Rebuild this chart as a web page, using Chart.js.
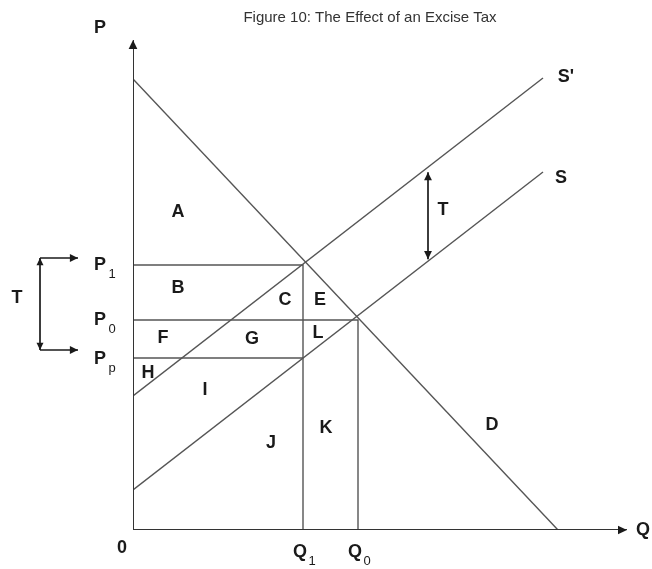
<!DOCTYPE html>
<html>
<head>
<meta charset="utf-8">
<script src="https://cdn.jsdelivr.net/npm/chart.js@4/dist/chart.umd.min.js"></script>
<style>
  html, body { margin: 0; padding: 0; background: #fff; }
  #wrap { width: 652px; height: 569px; }
</style>
</head>
<body>
<div id="wrap"><canvas id="tax-chart" width="652" height="569"></canvas></div>
<script>
// Courbes (Q en abscisse, P en ordonnée)
const demandQ = [0, 42.5];
const demandP = [45.1, 0];
const supplyQ = [0, 41.0];
const supplyP = [4.0, 35.8];
const taxedSupplyQ = [0, 41.0];
const taxedSupplyP = [13.4, 45.2];

// Quantités et prix d'équilibre
const quantityLabels = ['Q1', 'Q0'];
const quantityValues = [17.0, 22.5];
const priceLabels = ['P1', 'P0', 'Pp'];
const priceValues = [26.5, 21.0, 17.2];

// Limites des axes
const axisMaxQ = 49.4;
const axisMaxP = 49;

const Q1 = quantityValues[0], Q0 = quantityValues[1];
const P1 = priceValues[0], P0 = priceValues[1], Pp = priceValues[2];

function toPoints(xs, ys) {
    return xs.map((x, i) => ({ x: x, y: ys[i] }));
}

function lineDataset(points, color, width) {
    return {
        data: points,
        showLine: true,
        borderColor: color,
        borderWidth: width,
        pointRadius: 0,
        fill: false,
        tension: 0
    };
}

const curveColor = '#555';
const guideColor = '#555';
const axisColor = '#333';

const datasets = [
    lineDataset([{ x: 0, y: 0 }, { x: axisMaxQ, y: 0 }], axisColor, 2),
    lineDataset([{ x: 0, y: 0 }, { x: 0, y: axisMaxP }], axisColor, 2),
    lineDataset(toPoints(demandQ, demandP), curveColor, 1.4),
    lineDataset(toPoints(supplyQ, supplyP), curveColor, 1.4),
    lineDataset(toPoints(taxedSupplyQ, taxedSupplyP), curveColor, 1.4),
    lineDataset([{ x: 0, y: P1 }, { x: Q1, y: P1 }, { x: Q1, y: 0 }], guideColor, 1.4),
    lineDataset([{ x: 0, y: P0 }, { x: Q0, y: P0 }, { x: Q0, y: 0 }], guideColor, 1.4),
    lineDataset([{ x: 0, y: Pp }, { x: Q1, y: Pp }], guideColor, 1.4)
];

// Lettres des zones et des courbes (position en coordonnées du graphique)
const regionLabels = [
    { t: 'A', x: 4.5, y: 31.8 }, { t: 'B', x: 4.5, y: 24.2 },
    { t: 'C', x: 15.2, y: 23.0 }, { t: 'E', x: 18.7, y: 23.0 },
    { t: 'F', x: 3.0, y: 19.2 }, { t: 'G', x: 11.9, y: 19.1 },
    { t: 'L', x: 18.5, y: 19.7 }, { t: 'H', x: 1.5, y: 15.7 },
    { t: 'I', x: 7.2, y: 14.0 }, { t: 'J', x: 13.8, y: 8.7 },
    { t: 'K', x: 19.3, y: 10.2 }, { t: 'D', x: 35.9, y: 10.5 },
    { t: "S'", x: 43.3, y: 45.3 }, { t: 'S', x: 42.8, y: 35.2 },
    { t: 'T', x: 31.0, y: 32.0 }, { t: 'T', x: -11.6, y: 23.2 },
    { t: 'P', x: -3.3, y: 50.2 }, { t: 'Q', x: 51.0, y: 0 },
    { t: '0', x: -1.1, y: -1.8 }
];

function arrowHead(ctx, x1, y1, x2, y2, size) {
    const a = Math.atan2(y2 - y1, x2 - x1);
    ctx.beginPath();
    ctx.moveTo(x2, y2);
    ctx.lineTo(x2 - size * Math.cos(a - 0.45), y2 - size * Math.sin(a - 0.45));
    ctx.lineTo(x2 - size * Math.cos(a + 0.45), y2 - size * Math.sin(a + 0.45));
    ctx.closePath();
    ctx.fill();
}

function arrowLine(ctx, x1, y1, x2, y2, both) {
    ctx.beginPath();
    ctx.moveTo(x1, y1);
    ctx.lineTo(x2, y2);
    ctx.stroke();
    arrowHead(ctx, x1, y1, x2, y2, 9);
    if (both) arrowHead(ctx, x2, y2, x1, y1, 9);
}

const annotationPlugin = {
    id: 'annotations',
    afterDraw(chart) {
        const ctx = chart.ctx;
        const xs = chart.scales.x, ys = chart.scales.y;
        const px = v => xs.getPixelForValue(v);
        const py = v => ys.getPixelForValue(v);
        ctx.save();
        ctx.fillStyle = '#1a1a1a';
        ctx.strokeStyle = '#1a1a1a';
        ctx.lineWidth = 1.7;

        // flèches des axes
        arrowHead(ctx, px(0), py(0), px(0), py(axisMaxP), 10);
        arrowHead(ctx, px(0), py(0), px(axisMaxQ), py(0), 10);

        // flèche T entre S et S'
        const tx = 29.5;
        const sTop = taxedSupplyP[0] + (taxedSupplyP[1] - taxedSupplyP[0]) / taxedSupplyQ[1] * tx;
        const sBot = supplyP[0] + (supplyP[1] - supplyP[0]) / supplyQ[1] * tx;
        arrowLine(ctx, px(tx), py(sTop - 0.5), px(tx), py(sBot + 0.2), true);

        // flèche T à gauche, de P1 à Pp
        const lx = -9.3, lend = -5.5;
        const top = P1 + 0.7, bot = Pp + 0.8;
        ctx.beginPath();
        ctx.moveTo(px(lx), py(top));
        ctx.lineTo(px(lx), py(bot));
        ctx.stroke();
        arrowHead(ctx, px(lx), py(bot), px(lx), py(top), 8);
        arrowHead(ctx, px(lx), py(top), px(lx), py(bot), 8);
        arrowLine(ctx, px(lx), py(top), px(lend), py(top), false);
        arrowLine(ctx, px(lx), py(bot), px(lend), py(bot), false);

        // lettres
        ctx.textAlign = 'center';
        ctx.textBaseline = 'middle';
        ctx.font = 'bold 18px "Liberation Sans", Arial, sans-serif';
        regionLabels.forEach(l => ctx.fillText(l.t, px(l.x), py(l.y)));

        // prix et quantités avec indice
        const sub = (main, s, x, y) => {
            ctx.font = 'bold 18px "Liberation Sans", Arial, sans-serif';
            ctx.fillText(main, x, y);
            ctx.font = '13px "Liberation Sans", Arial, sans-serif';
            ctx.fillText(s, x + 12, y + 9);
        };
        priceLabels.forEach((lab, i) => {
            sub(lab[0], lab.slice(1), px(-3.3), py(priceValues[i]) + (i === 2 ? 1 : 0));
        });
        quantityLabels.forEach((lab, i) => {
            sub(lab[0], lab.slice(1), px(quantityValues[i]) - 3, py(-2.2));
        });

        // titre
        ctx.font = '15px "Liberation Sans", Arial, sans-serif';
        ctx.fillStyle = '#333';
        ctx.fillText('Figure 10: The Effect of an Excise Tax', 370, 18);
        ctx.restore();
    }
};

new Chart(document.getElementById('tax-chart'), {
    type: 'scatter',
    data: { datasets: datasets },
    options: {
        responsive: false,
        animation: false,
        layout: { padding: { left: 133, right: 25, top: 40, bottom: 39 } },
        plugins: { legend: { display: false }, tooltip: { enabled: false } },
        scales: {
            x: { type: 'linear', min: 0, max: axisMaxQ, display: false },
            y: { type: 'linear', min: 0, max: axisMaxP, display: false }
        }
    },
    plugins: [annotationPlugin]
});
</script>
</body>
</html>
